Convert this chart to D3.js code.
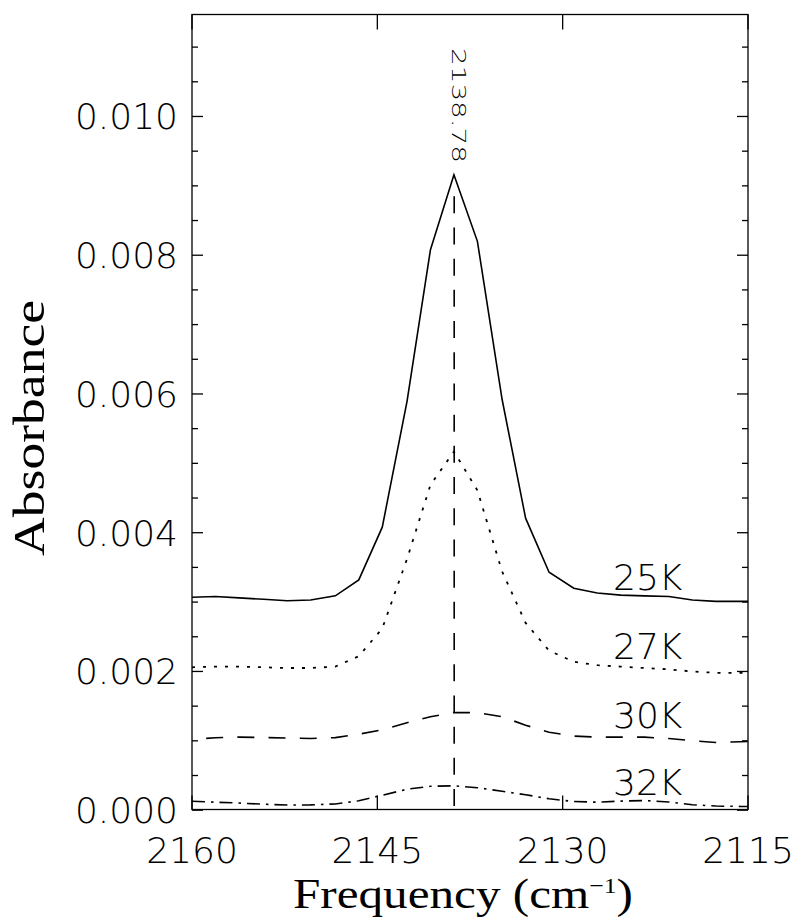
<!DOCTYPE html>
<html><head><meta charset="utf-8">
<script src="https://cdn.jsdelivr.net/npm/d3@7"></script>
<style>
html,body{margin:0;padding:0;background:#fff;}
svg{display:block;}
</style></head>
<body>
<svg id="chart" width="798" height="921"></svg>
<script>
// ---- data ----
const freq = [2160.0, 2158.1, 2156.2, 2154.2, 2152.3, 2150.4, 2148.4, 2146.5, 2144.6, 2142.6, 2140.7, 2138.8, 2136.9, 2134.9, 2133.0, 2131.1, 2129.1, 2127.2, 2125.3, 2123.4, 2121.4, 2119.5, 2117.6, 2115.6, 2115.0];
const abs25K = [0.00307, 0.00308, 0.00306, 0.00304, 0.00302, 0.00303, 0.00309, 0.00332, 0.00408, 0.00589, 0.00808, 0.00916, 0.00820, 0.00592, 0.00421, 0.00343, 0.00320, 0.00313, 0.00310, 0.00309, 0.00308, 0.00303, 0.00301, 0.00301, 0.00301];
const abs27K = [0.00206, 0.00207, 0.00207, 0.00206, 0.00205, 0.00205, 0.00207, 0.00222, 0.00262, 0.00362, 0.00469, 0.00517, 0.00461, 0.00344, 0.00270, 0.00230, 0.00214, 0.00209, 0.00207, 0.00205, 0.00203, 0.00200, 0.00198, 0.00198, 0.00198];
const abs30K = [0.001023, 0.001044, 0.001054, 0.001047, 0.001040, 0.001034, 0.001046, 0.001095, 0.001160, 0.001261, 0.001347, 0.001409, 0.001405, 0.001347, 0.001225, 0.001124, 0.001069, 0.001054, 0.001054, 0.001053, 0.001033, 0.001001, 0.000977, 0.000987, 0.000990];
const abs32K = [0.000129, 0.000115, 0.000103, 0.000086, 0.000074, 0.000077, 0.000090, 0.000136, 0.000216, 0.000302, 0.000345, 0.000352, 0.000324, 0.000273, 0.000223, 0.000165, 0.000125, 0.000115, 0.000131, 0.000139, 0.000119, 0.000079, 0.000060, 0.000054, 0.000054];
const seriesNames = ["25K", "27K", "30K", "32K"];
const seriesLabelY = [0.00318, 0.00218, 0.00118, 0.00022];
const xTicks = [2160, 2145, 2130, 2115];
const xTickLabels = ["2160", "2145", "2130", "2115"];
const yTicks = [0.000, 0.002, 0.004, 0.006, 0.008, 0.010];
const yTickLabels = ["0.000", "0.002", "0.004", "0.006", "0.008", "0.010"];
const yMinorTicks = [0.0005,0.001,0.0015,0.0025,0.003,0.0035,0.0045,0.005,0.0055,0.0065,0.007,0.0075,0.0085,0.009,0.0095,0.0105,0.011];
const peakFreq = 2138.78;
const peakLineTop = 0.00885;
const xDomain = [2160, 2115];
const yDomain = [0, 0.01147];

// ---- layout ----
const L = 192, R = 748, T = 14.5, B = 809.5;
const x = d3.scaleLinear().domain(xDomain).range([L, R]);
const y = d3.scaleLinear().domain(yDomain).range([810.2, T]);
const svg = d3.select("#chart");
const tickFont = "'DejaVu Sans', sans-serif";
const titleFont = "'Liberation Serif', serif";

svg.append("defs").append("clipPath").attr("id","clip")
  .append("rect").attr("x",L).attr("y",T).attr("width",R-L).attr("height",B-T);

const styles = [
  {dash: null, w: 1.6},
  {dash: "3,8", w: 1.8},
  {dash: "17,14.2", w: 1.6, off: 17},
  {dash: "13,6,2.5,6", w: 1.6}
];
const series = [abs25K, abs27K, abs30K, abs32K];
const line = d3.line().x(d => x(d[0])).y(d => y(d[1]));
const g = svg.append("g").attr("clip-path","url(#clip)");
series.forEach((s, i) => {
  const p = g.append("path")
    .attr("d", line(freq.map((f, j) => [f, s[j]])))
    .attr("fill","none").attr("stroke","#000")
    .attr("stroke-width", styles[i].w);
  if (styles[i].dash) p.attr("stroke-dasharray", styles[i].dash);
  if (styles[i].off) p.attr("stroke-dashoffset", styles[i].off);
});

// vertical dashed marker
g.append("path")
  .attr("d", line([[peakFreq, peakLineTop], [peakFreq, yDomain[0]]]))
  .attr("fill","none").attr("stroke","#000").attr("stroke-width",1.6)
  .attr("stroke-dasharray","17,14.2");

// frame
svg.append("rect").attr("x",L).attr("y",T).attr("width",R-L).attr("height",B-T)
  .attr("fill","none").attr("stroke","#000").attr("stroke-width",1.3);

// ticks
const ticks = svg.append("g").attr("stroke","#000").attr("stroke-width",1.3);
xTicks.forEach(t => {
  const xx = x(t);
  ticks.append("line").attr("x1",xx).attr("x2",xx).attr("y1",B).attr("y2",B-14);
  ticks.append("line").attr("x1",xx).attr("x2",xx).attr("y1",T).attr("y2",T+15);
});
yTicks.forEach(t => {
  const yy = y(t);
  ticks.append("line").attr("x1",L).attr("x2",L+11).attr("y1",yy).attr("y2",yy);
  ticks.append("line").attr("x1",R).attr("x2",R-11).attr("y1",yy).attr("y2",yy);
});
yMinorTicks.forEach(t => {
  const yy = y(t);
  ticks.append("line").attr("x1",L).attr("x2",L+6).attr("y1",yy).attr("y2",yy);
  ticks.append("line").attr("x1",R).attr("x2",R-6).attr("y1",yy).attr("y2",yy);
});

// tick labels
svg.append("g").selectAll("text").data(yTicks).join("text")
  .attr("x", 178).attr("y", d => y(d) + 13)
  .attr("text-anchor","end").attr("font-family",tickFont).attr("font-weight",200)
  .attr("font-size",36).text((d,i) => yTickLabels[i]);
svg.append("g").selectAll("text").data(xTicks).join("text")
  .attr("x", d => x(d)).attr("y", 863)
  .attr("text-anchor","middle").attr("font-family",tickFont).attr("font-weight",200)
  .attr("font-size",36).text((d,i) => xTickLabels[i]);

// series labels
svg.append("g").selectAll("text").data(seriesNames).join("text")
  .attr("x", 613).attr("y", (d,i) => y(seriesLabelY[i]))
  .attr("font-family",tickFont).attr("font-weight",200).attr("font-size",36)
  .text(d => d);

// peak label
svg.append("text").attr("transform",`translate(${x(peakFreq)-2},48) rotate(90)`)
  .attr("font-family",tickFont).attr("font-weight",300).attr("font-size",19)
  .attr("textLength",115).attr("lengthAdjust","spacingAndGlyphs")
  .text(peakFreq.toFixed(2));

// axis titles
svg.append("text").attr("transform","translate(44,428) rotate(-90)")
  .attr("text-anchor","middle").attr("font-family",titleFont).attr("font-size",44)
  .attr("textLength",256).attr("lengthAdjust","spacingAndGlyphs")
  .text("Absorbance");
const xt = svg.append("text").attr("x",293).attr("y",908)
  .attr("font-family",titleFont).attr("font-size",42)
  .attr("textLength",340).attr("lengthAdjust","spacingAndGlyphs");
xt.append("tspan").text("Frequency (cm");
xt.append("tspan").attr("dy",-15).attr("font-size",22).text("−1");
xt.append("tspan").attr("dy",15).text(")");
</script>
</body></html>
